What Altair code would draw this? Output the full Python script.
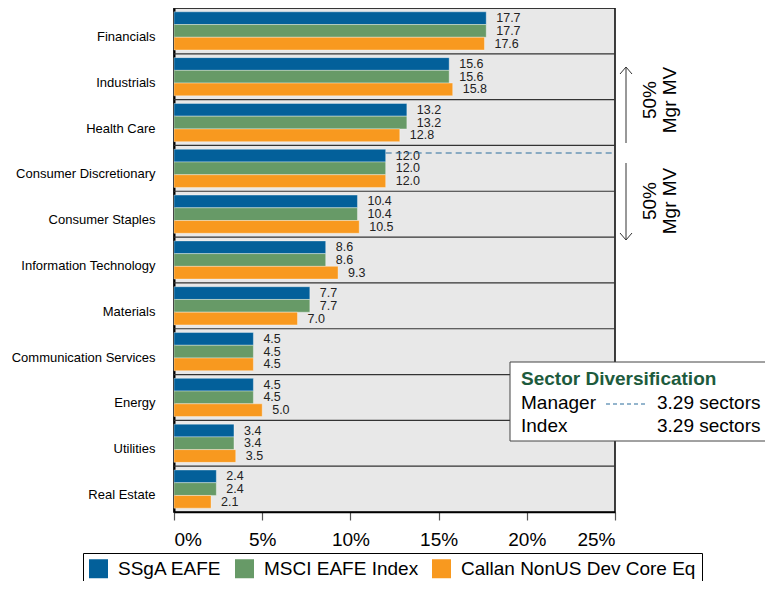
import altair as alt
import pandas as pd

categories = ["Financials", "Industrials", "Health Care", "Consumer Discretionary",
              "Consumer Staples", "Information Technology", "Materials",
              "Communication Services", "Energy", "Utilities", "Real Estate"]
series = ["SSgA EAFE", "MSCI EAFE Index", "Callan NonUS Dev Core Eq"]
ssga = [17.7, 15.6, 13.2, 12.0, 10.4, 8.6, 7.7, 4.5, 4.5, 3.4, 2.4]
msci = [17.7, 15.6, 13.2, 12.0, 10.4, 8.6, 7.7, 4.5, 4.5, 3.4, 2.4]
callan = [17.6, 15.8, 12.8, 12.0, 10.5, 9.3, 7.0, 4.5, 5.0, 3.5, 2.1]
colors = ["#03609a", "#679a67", "#f8991f"]
x_ticks = [0, 5, 10, 15, 20, 25]
x_max = 25
div_title = ["Sector Diversification"]
div_rows = ["Manager", "Index"]
div_values = ["3.29 sectors", "3.29 sectors"]
mgr_label = ["50%\nMgr MV"]
median_index = 3  # Consumer Discretionary

rows = []
for i, c in enumerate(categories):
    for s, vals in zip(series, [ssga, msci, callan]):
        rows.append({"sector": c, "series": s, "value": vals[i]})
df = pd.DataFrame(rows)

FONT = "Liberation Sans"

y_enc = alt.Y("sector:N", sort=categories,
              scale=alt.Scale(paddingInner=0, paddingOuter=0),
              axis=alt.Axis(title=None, ticks=False, labelFontSize=13, labelPadding=19,
                            labelOffset=6, labelColor="black", domainColor="black",
                            domainWidth=2, labelLimit=300))
yoff = alt.YOffset("series:N", sort=series,
                   scale=alt.Scale(paddingOuter=0.3, paddingInner=0))
x_enc = alt.X("value:Q", scale=alt.Scale(domain=[0, x_max], nice=False),
              axis=alt.Axis(values=x_ticks, labelExpr="datum.value + '%'", title=None,
                            grid=False, tickSize=8, labelFontSize=19, labelPadding=10,
                            labelColor="black", domainColor="black", domainWidth=1.5,
                            tickColor="#555", tickWidth=1.2))

seps = alt.Chart(pd.DataFrame({"sector": categories})).mark_rule(
    color="#333", strokeWidth=1.2).encode(
    y=alt.Y("sector:N", sort=categories, bandPosition=0),
    x=alt.value(0), x2=alt.value(441))

bars = alt.Chart(df).mark_bar(stroke="white", strokeWidth=0.6, strokeOpacity=0.6).encode(
    x=x_enc, y=y_enc, yOffset=yoff,
    color=alt.Color("series:N", sort=series,
                    scale=alt.Scale(domain=series, range=colors),
                    legend=alt.Legend(title=None, orient="none", legendX=-91, legendY=545,
                                      direction="horizontal", strokeColor="black",
                                      fillColor="white", padding=6, symbolType="square",
                                      symbolSize=361, symbolStrokeWidth=0, symbolOpacity=1,
                                      labelFontSize=19, labelOffset=10, columnPadding=13,
                                      labelColor="black", labelLimit=400)))

labels = alt.Chart(df).mark_text(align="left", baseline="middle", dx=10, fontSize=12.5,
                                 color="#222").encode(
    x="value:Q", y=alt.Y("sector:N", sort=categories),
    yOffset=alt.YOffset("series:N", sort=series),
    text=alt.Text("value:Q", format=".1f"))

mgr_df = pd.DataFrame({"value": [ssga[median_index]], "end": [x_max]})
dashed = alt.Chart(mgr_df).mark_rule(strokeDash=[6, 4], color="#2b6c9c",
                                     strokeWidth=1.2).encode(
    x="value:Q", x2="end:Q", y=alt.value(145))

lab_df = pd.DataFrame({"t": mgr_label})
arrow_parts = []
for (x1, y1, x2, y2) in [(452, 59, 452, 135), (452, 59, 446, 66), (452, 59, 458, 66),
                         (452, 155, 452, 232), (452, 232, 446, 225), (452, 232, 458, 225)]:
    arrow_parts.append(alt.Chart(lab_df).mark_rule(color="#333", strokeWidth=1).encode(
        x=alt.value(x1), y=alt.value(y1), x2=alt.value(x2), y2=alt.value(y2)))

rot_texts = []
for yc in [92, 193]:
    rot_texts.append(alt.Chart(lab_df).mark_text(
        angle=270, align="center", baseline="middle", fontSize=19, lineBreak="\n",
        lineHeight=20, color="black").encode(
        x=alt.value(476), y=alt.value(yc), text="t:N"))

box = alt.Chart(lab_df).mark_rect(fill="white", stroke="#444", strokeWidth=1).encode(
    x=alt.value(336), x2=alt.value(640), y=alt.value(354), y2=alt.value(433))
title_t = alt.Chart(pd.DataFrame({"t": div_title})).mark_text(
    align="left", baseline="middle", fontSize=19, fontWeight="bold",
    color="#1d5b3d").encode(x=alt.value(347), y=alt.value(371), text="t:N")
row_texts = []
for i, yc in enumerate([395, 418]):
    d = pd.DataFrame({"t": [div_rows[i]], "v": [div_values[i]]})
    row_texts.append(alt.Chart(d).mark_text(align="left", baseline="middle", fontSize=19,
                                            color="black").encode(
        x=alt.value(347), y=alt.value(yc), text="t:N"))
    row_texts.append(alt.Chart(d).mark_text(align="left", baseline="middle", fontSize=19,
                                            color="black").encode(
        x=alt.value(483), y=alt.value(yc), text="v:N"))
sample = alt.Chart(lab_df).mark_rule(strokeDash=[4, 3], color="#2b6c9c",
                                     strokeWidth=1.2).encode(
    x=alt.value(432), x2=alt.value(473), y=alt.value(396))

chart = alt.layer(seps, bars, labels, dashed, *arrow_parts, *rot_texts, box, title_t,
                  *row_texts, sample).properties(
    width=441, height=504,
    padding={"left": 166, "top": 0, "right": 150, "bottom": 69},
    autosize=alt.AutoSizeParams(type="none"),
).configure(font=FONT).configure_view(
    fill="#e8e8e8", stroke="black", strokeWidth=1.5
).configure_text(font=FONT)

chart.save("out.html", embed_options={"renderer": "svg", "actions": False})
